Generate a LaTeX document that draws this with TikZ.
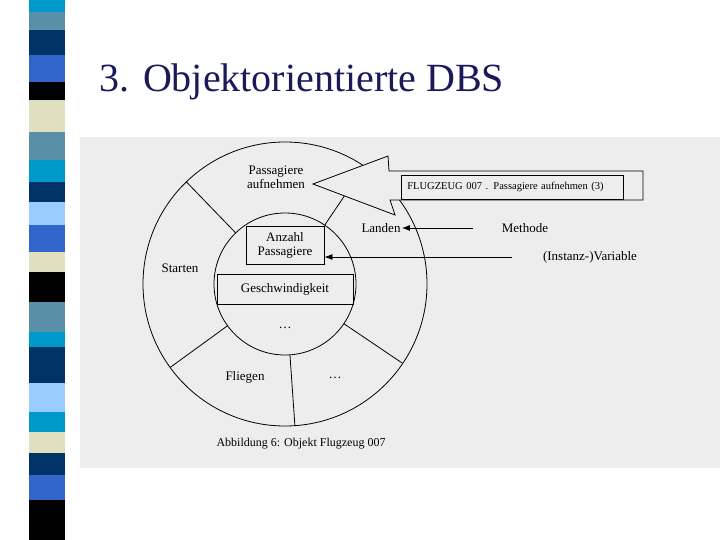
\documentclass[tikz,border=0pt]{standalone}
\usepackage{fontspec}
\setmainfont{Liberation Serif}
\usepackage{xcolor}
\usetikzlibrary{arrows.meta}
\usetikzlibrary{calc}
\definecolor{sCyan}{HTML}{0099CC}
\definecolor{sGray}{HTML}{5A8FA8}
\definecolor{sNavy}{HTML}{003366}
\definecolor{sRoyal}{HTML}{3366CC}
\definecolor{sBeige}{HTML}{E0E0C0}
\definecolor{sLight}{HTML}{99CCFF}
\definecolor{titleblue}{HTML}{1A1A5A}
\definecolor{scanbg}{HTML}{EDEDED}
\tikzset{
  lbl/.style={font=\fontsize{13}{14}\selectfont,align=center,inner sep=1pt},
  varbox/.style={draw,thick,lbl,inner sep=3pt},
  pointer/.style={-{Latex[length=8pt,width=6pt]},thick}
}
\begin{document}
\begin{tikzpicture}[x=1pt,y=-1pt,line width=0.8pt]
\useasboundingbox (0,0) rectangle (720,540);
\fill[white] (0,0) rectangle (720,540);

% stripe on the left
\foreach \ya/\yb/\c in {0/12/sCyan,12/30/sGray,30/55/sNavy,55/82/sRoyal,82/100/black,
  100/132/sBeige,132/160/sGray,160/182/sCyan,182/202/sNavy,202/225/sLight,225/252/sRoyal,
  252/272/sBeige,272/302/black,302/332/sGray,332/347/sCyan,347/383/sNavy,383/412/sLight,
  412/432/sCyan,432/453/sBeige,453/475/sNavy,475/500/sRoyal,500/540/black}
  \fill[\c] (29,\ya) rectangle (65,\yb);

\node[anchor=west,text=titleblue,font=\fontsize{40}{44}\selectfont] (title) at (96,82) {3. Objektorientierte DBS};

% scanned figure
\fill[scanbg] (80,137) rectangle (720,468);
\coordinate (c) at (285,284);
\draw (c) circle[radius=142];
\draw (c) circle[radius=71];
\foreach \a in {134,56,216,274,-34}
  \draw ($(c)+(\a:71 and -71)$) -- ($(c)+(\a:142 and -142)$);

\node[varbox,minimum width=78pt,minimum height=38pt] (anzahl) at (285,245) {Anzahl\\Passagiere};
\node[varbox,minimum width=136pt,minimum height=30pt] (geschw) at (285,289) {Geschwindigkeit};
\node[lbl] (dots1) at (285,328) {\dots};
\node[lbl] (dots2) at (335,378) {\dots};

\node[lbl] (aufnehmen) at (276,177) {Passagiere\\aufnehmen};
\node[lbl] (landen) at (381,228) {Landen};
\node[lbl] (starten) at (180,268) {Starten};
\node[lbl] (fliegen) at (245,377) {Fliegen};

% message arrow
\draw[fill=scanbg] (313,184) -- (388,156) -- (389,171) -- (643,171) -- (643,200) -- (390,200) -- (395,215) -- cycle;
\node[draw,minimum width=222pt,minimum height=24pt,anchor=west,
  font=\fontsize{10.5}{11}\selectfont,text width=210pt] (msg) at (401,187) {FLUGZEUG 007 . Passagiere aufnehmen (3)};

\node[lbl] (methode) at (525,228) {Methode};
\node[lbl] (variable) at (590,257) {(Instanz-)Variable};
\draw[pointer] ([xshift=-28pt]methode.west) -- (landen.east);
\draw[pointer] ([xshift=-30pt]variable.west) -- (anzahl.east |- variable.west);

\node[lbl,font=\fontsize{12}{13}\selectfont] (caption) at (301,444) {Abbildung 6: Objekt Flugzeug 007};
\end{tikzpicture}
\end{document}
